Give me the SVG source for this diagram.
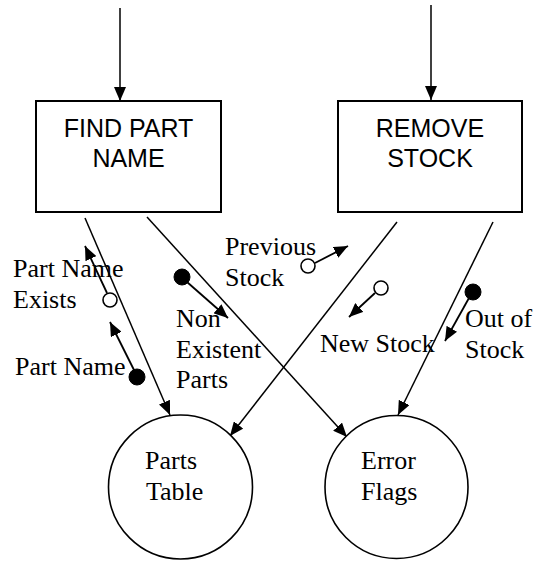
<svg xmlns="http://www.w3.org/2000/svg" width="539" height="564" viewBox="0 0 539 564">
  <style>
    .box { fill: #fff; stroke: #000; stroke-width: 2; }
    .store { fill: #fff; stroke: #000; stroke-width: 1.6; }
    .flow { fill: none; stroke: #000; stroke-width: 1.5; marker-end: url(#arrow); }
    .couple { fill: none; stroke: #000; stroke-width: 1.8; marker-end: url(#arrow); }
    .data { fill: #fff; stroke: #000; stroke-width: 1.6; }
    .ctrl { fill: #000; stroke: #000; stroke-width: 1; }
    .proc { font-family: "Liberation Sans", Arial, sans-serif; font-size: 25px; fill: #000; text-anchor: middle; }
    .lbl { font-family: "Liberation Serif", "Times New Roman", serif; font-size: 26px; fill: #000; }
  </style>
  <defs>
    <marker id="arrow" markerUnits="userSpaceOnUse" markerWidth="14" markerHeight="12" refX="14" refY="6" orient="auto">
      <path d="M0,0 L14,6 L0,12 z" fill="#000"/>
    </marker>
  </defs>

  <g id="connectors">
    <!-- incoming flows -->
    <line class="flow" x1="120" y1="8" x2="120" y2="101"/>
    <line class="flow" x1="431" y1="5" x2="431" y2="100"/>
    <!-- process to store -->
    <line class="flow" x1="85" y1="218" x2="170" y2="415"/>
    <line class="flow" x1="147" y1="217" x2="347" y2="437"/>
    <line class="flow" x1="397" y1="222" x2="230" y2="436"/>
    <line class="flow" x1="493" y1="222" x2="398" y2="415"/>
    <!-- couples -->
    <line class="couple" x1="107" y1="293" x2="85" y2="246"/>
    <line class="couple" x1="134" y1="370" x2="110" y2="322"/>
    <line class="couple" x1="187" y1="282" x2="228" y2="318"/>
    <line class="couple" x1="315" y1="263" x2="348" y2="246"/>
    <line class="couple" x1="375" y1="293" x2="349" y2="317"/>
    <line class="couple" x1="469" y1="298" x2="445" y2="341"/>
    <circle class="data" cx="110" cy="300" r="7"/>
    <circle class="ctrl" cx="137" cy="377" r="8"/>
    <circle class="ctrl" cx="182" cy="277" r="8"/>
    <circle class="data" cx="308" cy="266" r="7"/>
    <circle class="data" cx="381" cy="288" r="7"/>
    <circle class="ctrl" cx="473" cy="292" r="8"/>
  </g>

  <g id="find-part-name">
    <rect class="box" x="36" y="101" width="185" height="111"/>
    <text class="proc" x="128.5" y="137">FIND PART</text>
    <text class="proc" x="128.5" y="167">NAME</text>
  </g>

  <g id="remove-stock">
    <rect class="box" x="338" y="101" width="184" height="111"/>
    <text class="proc" x="430" y="137">REMOVE</text>
    <text class="proc" x="430" y="167">STOCK</text>
  </g>

  <g id="parts-table">
    <circle class="store" cx="180.5" cy="487" r="72"/>
    <text class="lbl" x="145" y="469">Parts</text>
    <text class="lbl" x="146" y="500">Table</text>
  </g>

  <g id="error-flags">
    <circle class="store" cx="396.5" cy="487" r="71.5"/>
    <text class="lbl" x="361" y="469">Error</text>
    <text class="lbl" x="361" y="500">Flags</text>
  </g>

  <g id="labels">
    <text class="lbl" x="13" y="277">Part Name</text>
    <text class="lbl" x="13" y="308">Exists</text>
    <text class="lbl" x="15" y="375">Part Name</text>
    <text class="lbl" x="176" y="327">Non</text>
    <text class="lbl" x="176" y="358">Existent</text>
    <text class="lbl" x="176" y="388">Parts</text>
    <text class="lbl" x="225" y="255">Previous</text>
    <text class="lbl" x="225" y="286">Stock</text>
    <text class="lbl" x="320" y="352">New Stock</text>
    <text class="lbl" x="465" y="327">Out of</text>
    <text class="lbl" x="465" y="358">Stock</text>
  </g>
</svg>
